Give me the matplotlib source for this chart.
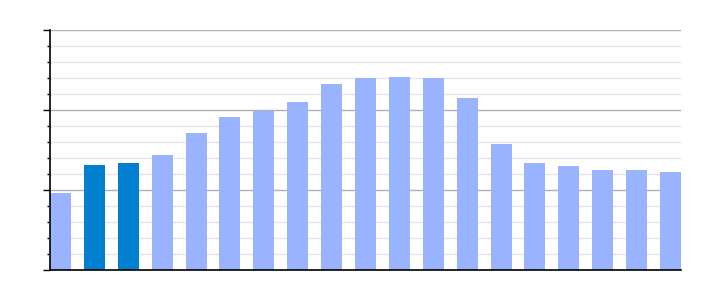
import matplotlib
matplotlib.use("Agg")
import matplotlib.pyplot as plt
from matplotlib.ticker import MultipleLocator, NullFormatter

# bar heights (axis runs 0..3, no tick labels shown)
values = [0.96, 1.31, 1.34, 1.44, 1.71, 1.91, 1.99, 2.10, 2.33, 2.40,
          2.41, 2.40, 2.15, 1.58, 1.34, 1.30, 1.25, 1.25, 1.23]
highlighted = [1, 2]

light = "#99b3ff"
dark = "#0080cf"

fig = plt.figure(figsize=(7.1, 3.0), dpi=100)
ax = fig.add_axes([50 / 710, 0.1, 631 / 710, 0.8])

x = list(range(len(values)))
colors = [dark if i in highlighted else light for i in x]
width = 0.62
ax.bar(x, values, width=width, color=colors, zorder=2)

ax.set_xlim(-width / 2, len(values) - 1 + width / 2)
ax.set_ylim(0, 3)

# grid: darker major lines, light minor lines
ax.yaxis.set_major_locator(MultipleLocator(1))
ax.yaxis.set_minor_locator(MultipleLocator(0.2))
ax.yaxis.set_major_formatter(NullFormatter())
ax.grid(axis="y", which="major", color="#b0b0b0", linewidth=1, zorder=0)
ax.grid(axis="y", which="minor", color="#e6e6e6", linewidth=1, zorder=0)
ax.set_axisbelow(True)

ax.set_xticks([])
ax.tick_params(axis="y", which="major", length=5, width=1, color="black")
ax.tick_params(axis="y", which="minor", length=2.5, width=1, color="black")

for side in ["top", "right"]:
    ax.spines[side].set_visible(False)
for side in ["left", "bottom"]:
    ax.spines[side].set_color("black")
    ax.spines[side].set_linewidth(1.2)

fig.savefig("out.png", dpi=100)
